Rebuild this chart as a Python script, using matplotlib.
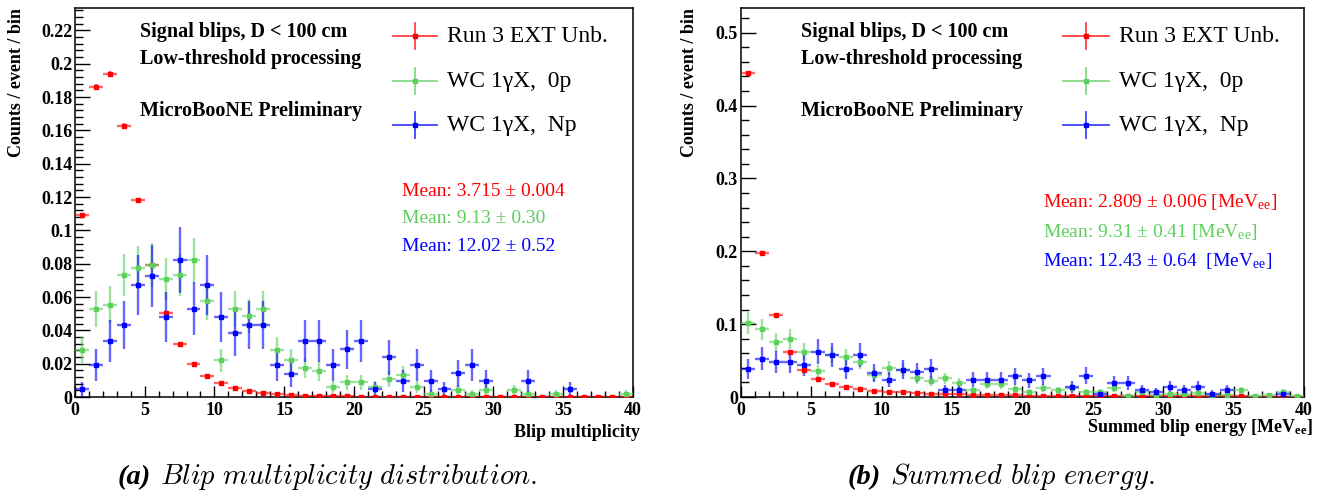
import numpy as np
import matplotlib
matplotlib.use("Agg")
import matplotlib.pyplot as plt
import matplotlib.colors as mc
from matplotlib.ticker import MultipleLocator, FuncFormatter

plt.rcParams['font.family'] = ['Liberation Serif', 'DejaVu Serif']
plt.rcParams['mathtext.fontset'] = 'custom'
plt.rcParams['mathtext.rm'] = 'Liberation Serif'
plt.rcParams['mathtext.it'] = 'Liberation Serif:italic'
plt.rcParams['mathtext.bf'] = 'Liberation Serif:bold'

# ---------------- data ----------------
bin_edges = np.arange(0, 41, 1)
bin_centers = 0.5 * (bin_edges[:-1] + bin_edges[1:])

series_labels = ["Run 3 EXT Unb.", "WC 1\u03b3X,  0p", "WC 1\u03b3X,  Np"]
series_colors = ["#ff0000", "#5ccf5c", "#0000ff"]
# per-event weight of one entry (sets Poisson error size)
entry_weight = [0.00002, 0.0022, 0.0048]

mult_red = [0.109, 0.186, 0.194, 0.1624, 0.118, 0.079, 0.0504, 0.032, 0.020, 0.0126,
            0.0084, 0.0054, 0.0038, 0.0025, 0.0018, 0.0013, 0.0009, 0.0007, 0.0005, 0.0004,
            0.0003, 0.0003, 0.0002, 0.0002, 0.0002, 0.00015, 0.00012, 0.0001, 0.0001, 0.0001,
            0.00008, 0.00007, 0.00006, 0.00005, 0.00005, 0.00004, 0.00004, 0.00003, 0.00003, 0.00003]
mult_green = [0.0284, 0.053, 0.0554, 0.073, 0.0776, 0.0794, 0.0708, 0.073, 0.082, 0.0574,
              0.022, 0.053, 0.0486, 0.053, 0.0284, 0.022, 0.0174, 0.0156, 0.006, 0.0088,
              0.0088, 0.0062, 0.0108, 0.0132, 0.0062, 0.0020, 0.0, 0.0042, 0.0020, 0.0042,
              0.0, 0.0042, 0.0020, 0.0, 0.0020, 0.0, 0.0, 0.0, 0.0, 0.0020]
mult_blue = [0.0046, 0.019, 0.0334, 0.043, 0.0674, 0.0724, 0.048, 0.082, 0.053, 0.0674,
             0.048, 0.0384, 0.0434, 0.0434, 0.019, 0.014, 0.0334, 0.0334, 0.019, 0.0286,
             0.0336, 0.0046, 0.0238, 0.0096, 0.0192, 0.0096, 0.0046, 0.0142, 0.0192, 0.0096,
             0.0, 0.0, 0.0096, 0.0, 0.0, 0.0046, 0.0, 0.0, 0.0, 0.0]

energy_red = [0.445, 0.198, 0.1126, 0.0620, 0.0375, 0.0252, 0.0183, 0.0135, 0.011, 0.0087,
              0.0073, 0.0062, 0.0050, 0.0046, 0.0040, 0.0037, 0.0032, 0.0028, 0.0025, 0.0022,
              0.0020, 0.0018, 0.0016, 0.0015, 0.0014, 0.0013, 0.0012, 0.0011, 0.0010, 0.0010,
              0.0009, 0.0009, 0.0008, 0.0008, 0.0007, 0.0007, 0.0006, 0.0006, 0.0005, 0.0005]
energy_green = [0.1016, 0.0930, 0.0752, 0.0797, 0.0620, 0.0353, 0.0575, 0.055, 0.0485, 0.0307,
                0.040, 0.0375, 0.026, 0.0224, 0.026, 0.0192, 0.0092, 0.0179, 0.0179, 0.011,
                0.0069, 0.0124, 0.0092, 0.0124, 0.0069, 0.0069, 0.0124, 0.0020, 0.0069, 0.0030,
                0.0040, 0.0040, 0.0055, 0.0030, 0.0030, 0.0092, 0.0020, 0.0027, 0.0069, 0.0014]
energy_blue = [0.0385, 0.0527, 0.048, 0.048, 0.0433, 0.0622, 0.0575, 0.0385, 0.058, 0.033,
               0.0238, 0.0375, 0.034, 0.0385, 0.010, 0.010, 0.0238, 0.0238, 0.0238, 0.0284,
               0.0229, 0.0284, 0.0, 0.0137, 0.0293, 0.0040, 0.0192, 0.0192, 0.0092, 0.0069,
               0.0137, 0.0092, 0.0137, 0.0046, 0.0092, 0.0, 0.0, 0.0, 0.0040, 0.0]

mult_means = ["Mean: 3.715 \u00b1 0.004", "Mean: 9.13 \u00b1 0.30", "Mean: 12.02 \u00b1 0.52"]
energy_means = ["Mean: 2.809 \u00b1 0.006 [MeV$_{\\mathrm{ee}}$]",
                "Mean: 9.31 \u00b1 0.41 [MeV$_{\\mathrm{ee}}$]",
                "Mean: 12.43 \u00b1 0.64  [MeV$_{\\mathrm{ee}}$]"]
info_lines = ["Signal blips, D < 100 cm", "Low-threshold processing", "MicroBooNE Preliminary"]
ylabel_text = "Counts / event / bin"
xlabels = ["Blip multiplicity", "Summed blip energy [MeV$_{\\mathbf{ee}}$]"]
captions = [("(a)", "Blip multiplicity distribution."), ("(b)", "Summed blip energy.")]

# ---------------- figure ----------------
W, H = 1323, 493
fig = plt.figure(figsize=(W / 100, H / 100), dpi=100)

def px_rect(x0, x1, ytop, ybot):
    return [x0 / W, 1 - ybot / H, (x1 - x0) / W, (ybot - ytop) / H]

axL = fig.add_axes(px_rect(75, 632.7, 8, 397))
axR = fig.add_axes(px_rect(740.7, 1304, 8, 397))

def rgba(c, a):
    r, g, b = mc.to_rgb(c)
    return (r, g, b, a)

def draw_hist(ax, vals, color, w):
    v = np.asarray(vals, dtype=float)
    m = v > 0
    err = np.sqrt(v * w)
    ax.errorbar(bin_centers[m], v[m], xerr=0.5, yerr=err[m], fmt='s', ms=3.2,
                mfc=color, mec=color, ecolor=rgba(color, 0.6), elinewidth=1.7,
                capsize=0, zorder=3)

def style_axis(ax, ymax, ymaj, ymin):
    ax.set_xlim(0, 40)
    ax.set_ylim(0, ymax)
    ax.xaxis.set_major_locator(MultipleLocator(5))
    ax.xaxis.set_minor_locator(MultipleLocator(1))
    ax.yaxis.set_major_locator(MultipleLocator(ymaj))
    ax.yaxis.set_minor_locator(MultipleLocator(ymin))
    ax.yaxis.set_major_formatter(FuncFormatter(lambda v, p: "%g" % round(v, 4)))
    ax.xaxis.set_major_formatter(FuncFormatter(lambda v, p: "%g" % v))
    ax.tick_params(which='both', direction='in', top=False, right=False, colors='black')
    ax.tick_params(axis='x', which='major', length=8, width=1.0, pad=3.5)
    ax.tick_params(axis='x', which='minor', length=4.5, width=1.0)
    ax.tick_params(axis='y', which='major', length=11, width=1.0, pad=2)
    ax.tick_params(axis='y', which='minor', length=5.5, width=1.0)
    for lab in ax.get_xticklabels() + ax.get_yticklabels():
        lab.set_fontweight('bold')
        lab.set_fontsize(13)
    for s in ax.spines.values():
        s.set_linewidth(1.1)

panels = [
    (axL, [mult_red, mult_green, mult_blue], 0.2335, 0.02, 0.004, mult_means,
     dict(info_x=0.1166, leg_x=0.6096, leg_hw=0.0394, leg_tx=0.667, mean_x=0.586,
          mean_y=[0.527, 0.460, 0.388], ylab_x=17, xlab_r=640, xlab_y=437)),
    (axR, [energy_red, energy_green, energy_blue], 0.534, 0.1, 0.02, energy_means,
     dict(info_x=0.1065, leg_x=0.613, leg_hw=0.041, leg_tx=0.6715, mean_x=0.536,
          mean_y=[0.501, 0.424, 0.350], ylab_x=690, xlab_r=1313, xlab_y=432)),
]

for i, (ax, sets, ymax, ymaj, ymin, means, P) in enumerate(panels):
    for vals, col, w in zip(sets, series_colors, entry_weight):
        draw_hist(ax, vals, col, w)
    style_axis(ax, ymax, ymaj, ymin)

    for txt, yy in zip(info_lines, [0.938, 0.869, 0.735]):
        ax.text(P['info_x'], yy, txt, transform=ax.transAxes, fontsize=14.5,
                fontweight='bold', ha='left', va='center')
    leg_y = [0.928, 0.812, 0.699]
    for lab, col, yy in zip(series_labels, series_colors, leg_y):
        ax.plot([P['leg_x'] - P['leg_hw'], P['leg_x'] + P['leg_hw']], [yy, yy],
                transform=ax.transAxes, color=rgba(col, 0.75), lw=1.3, clip_on=False)
        ax.plot([P['leg_x'], P['leg_x']], [yy - 0.033, yy + 0.033],
                transform=ax.transAxes, color=rgba(col, 0.75), lw=1.3, clip_on=False)
        ax.plot([P['leg_x']], [yy], 's', ms=2.5, color=col, transform=ax.transAxes,
                clip_on=False)
        ax.text(P['leg_tx'], yy, lab, transform=ax.transAxes, fontsize=17,
                ha='left', va='center')
    for txt, col, yy in zip(means, series_colors, P['mean_y']):
        ax.text(P['mean_x'], yy, txt, transform=ax.transAxes, fontsize=14,
                color=col, ha='left', va='center')
    fig.text(P['ylab_x'] / W, 1 - 8 / H, ylabel_text, rotation=90, fontsize=13,
             fontweight='bold', ha='center', va='top')
    fig.text(P['xlab_r'] / W, 1 - P['xlab_y'] / H, xlabels[i], fontsize=13,
             fontweight='bold', ha='right', va='baseline')

# captions (Computer Modern italic for the body, bold italic label)
fig.canvas.draw()
rend = fig.canvas.get_renderer()
for (lead, rest), x0 in zip(captions, [118, 848]):
    t1 = fig.text(x0 / W, 1 - 484 / H, lead, fontsize=20.5, fontstyle='italic',
                  fontweight='bold', ha='left', va='baseline')
    bb = t1.get_window_extent(rend)
    body = "$\\mathit{" + rest.replace(" ", "\\ ") + "}$"
    fig.text((bb.x1 + 9) / W, 1 - 484 / H, body, fontsize=20.5,
             math_fontfamily='cm', ha='left', va='baseline')

fig.savefig("out.png", dpi=100)
